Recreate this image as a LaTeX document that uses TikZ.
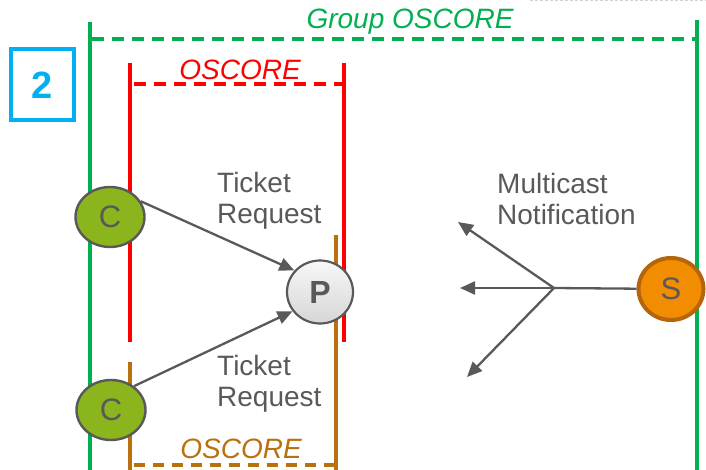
\documentclass[tikz,border=0pt]{standalone}
\usepackage{fontspec}
\setmainfont{Liberation Sans}
\usetikzlibrary{arrows.meta,shapes.geometric}
\definecolor{grp}{RGB}{0,176,80}
\definecolor{osred}{RGB}{255,0,0}
\definecolor{osbrown}{RGB}{186,112,12}
\definecolor{boxblue}{RGB}{0,176,240}
\definecolor{txtgray}{RGB}{89,89,89}
\definecolor{cgreen}{RGB}{138,181,28}
\definecolor{sorange}{RGB}{242,140,0}
\definecolor{sborder}{RGB}{181,101,12}
\begin{document}
\begin{tikzpicture}[x=1pt,y=-1pt,
  vline/.style={line width=4.5pt},
  dline/.style={line width=4.5pt, dash pattern=on 12pt off 8pt},
  lbl/.style={inner sep=0pt, text=txtgray, align=left,
    font=\fontsize{28pt}{31.5pt}\selectfont},
  ital/.style={inner sep=0pt, font=\fontsize{28pt}{31pt}\selectfont\itshape},
  arr/.style={draw=txtgray, line width=2.3pt,
    -{Triangle[length=15pt,width=13pt]}},
  cnode/.style={ellipse, draw=txtgray, line width=2.4pt, fill=cgreen,
    minimum width=69pt, minimum height=60pt, inner sep=0pt,
    text=txtgray, font=\fontsize{31pt}{34pt}\selectfont},
  pnode/.style={ellipse, draw=txtgray, line width=2.2pt,
    top color=gray!6, bottom color=gray!32,
    minimum width=66pt, minimum height=63pt, inner sep=0pt,
    text=txtgray, font=\fontsize{32pt}{36pt}\selectfont\bfseries},
  snode/.style={ellipse, draw=sborder, line width=4pt, fill=sorange,
    minimum width=65pt, minimum height=62pt, inner sep=0pt,
    text=txtgray, font=\fontsize{31pt}{34pt}\selectfont}]
\useasboundingbox (0,0) rectangle (706,470);

% faint top dashes
\draw[gray!35, line width=1pt, dash pattern=on 3pt off 2pt] (530,1) -- (706,1);

% Group OSCORE
\draw[vline, grp] (90,22) -- (90,470);
\draw[vline, grp] (697,20) -- (697,470);
\draw[dline, grp] (92,39) -- (695,39);
\node[ital, text=grp, anchor=base] (glbl) at (410,29) {Group OSCORE};

% red OSCORE
\draw[vline, osred] (130,63) -- (130,342);
\draw[vline, osred] (344,63) -- (344,342);
\draw[dline, osred] (134,84) -- (342,84);
\node[ital, text=osred, anchor=base] (rlbl) at (240,80) {OSCORE};

% brown OSCORE
\draw[line width=4pt, osbrown] (130,362) -- (130,470);
\draw[line width=4pt, osbrown] (336,235) -- (336,470);
\draw[line width=4pt, osbrown, dash pattern=on 11pt off 8pt] (134,465) -- (334,465);
\node[ital, text=osbrown, anchor=base] (blbl) at (241,458) {OSCORE};

% step number box
\node[draw=boxblue, line width=4pt, minimum width=63pt, minimum height=71pt,
  inner sep=0pt, text=boxblue, font=\fontsize{38pt}{40pt}\selectfont\bfseries]
  (num) at (42.5,85) {2};

% nodes
\node[cnode] (c1) at (110,217) {C};
\node[cnode] (c2) at (111,410) {C};
\node[pnode] (p) at (320,292) {P};
\node[snode] (s) at (671,289) {S};

% labels
\node[lbl, anchor=north west] (t1) at (217,172) {Ticket\\Request};
\node[lbl, anchor=north west] (t2) at (217,355) {Ticket\\Request};
\node[lbl, anchor=north west] (mn) at (497,173) {Multicast\\Notification};

% arrows
\draw[arr] (c1.27) -- (p.140);
\draw[arr] (c2.46) -- (p.215);

\coordinate (hub) at (554,288);
\coordinate (m1) at (458,222);
\coordinate (m2) at (460,288);
\coordinate (m3) at (467,377);
\draw[draw=txtgray, line width=2.3pt] (s) -- (hub);
\draw[arr] (hub) -- (m1);
\draw[arr] (hub) -- (m2);
\draw[arr] (hub) -- (m3);
\end{tikzpicture}
\end{document}
